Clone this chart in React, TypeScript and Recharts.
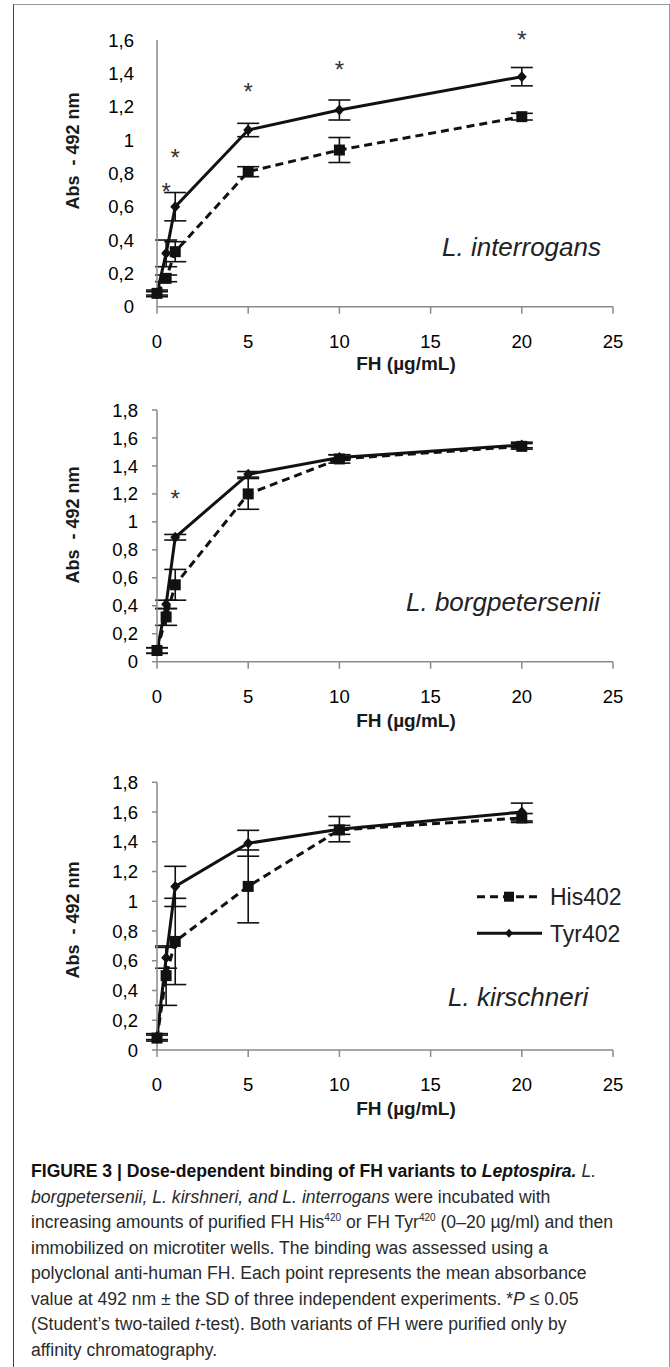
import React from "react";
import {
  LineChart,
  Line,
  XAxis,
  YAxis,
  ErrorBar,
  ReferenceDot,
  Legend,
} from "recharts";

const FONT = "'Liberation Sans', Arial, Helvetica, sans-serif";
const INK = "#111";
const AXIS = "#8a8a8a";

// FH concentration (µg/mL) used in every panel
const doses = [0, 0.5, 1, 5, 10, 20];
const xTicks = [0, 5, 10, 15, 20, 25];
const yTicksTo16 = [0, 0.2, 0.4, 0.6, 0.8, 1, 1.2, 1.4, 1.6];
const yTicksTo18 = [0, 0.2, 0.4, 0.6, 0.8, 1, 1.2, 1.4, 1.6, 1.8];
const seriesNames = ["His402", "Tyr402"];

// L. interrogans
const interHis = [0.08, 0.17, 0.33, 0.81, 0.94, 1.14];
const interHisSd = [0.02, 0.02, 0.06, 0.03, 0.075, 0.02];
const interTyr = [0.08, 0.32, 0.6, 1.06, 1.18, 1.38];
const interTyrSd = [0.01, 0.08, 0.085, 0.04, 0.06, 0.055];
const interStarX = [0.5, 1, 5, 10, 20];
const interStarY = [0.72, 0.92, 1.32, 1.45, 1.63];

// L. borgpetersenii
const borgHis = [0.08, 0.32, 0.55, 1.2, 1.45, 1.54];
const borgHisSd = [0.02, 0.06, 0.11, 0.11, 0.03, 0.02];
const borgTyr = [0.08, 0.41, 0.89, 1.34, 1.46, 1.55];
const borgTyrSd = [0.02, 0.03, 0.02, 0.02, 0.02, 0.02];
const borgStarX = [1];
const borgStarY = [1.2];

// L. kirschneri
const kirHis = [0.08, 0.5, 0.73, 1.1, 1.48, 1.56];
const kirHisSd = [0.02, 0.2, 0.29, 0.245, 0.03, 0.03];
const kirTyr = [0.09, 0.62, 1.1, 1.39, 1.485, 1.6];
const kirTyrSd = [0.02, 0.07, 0.135, 0.087, 0.085, 0.06];

const buildRows = (his: number[], hisSd: number[], tyr: number[], tyrSd: number[]) =>
  doses.map((x, i) => ({ x, his: his[i], hisSd: hisSd[i], tyr: tyr[i], tyrSd: tyrSd[i] }));

const comma = (v: number) => String(v).replace(".", ",");

const squareDot = (p: any) => (
  <rect key={`s${p.index}`} x={p.cx - 5.5} y={p.cy - 5.5} width={11} height={11} fill={INK} />
);
const diamondDot = (p: any) => (
  <path
    key={`d${p.index}`}
    d={`M${p.cx},${p.cy - 5.5}L${p.cx + 5},${p.cy}L${p.cx},${p.cy + 5.5}L${p.cx - 5},${p.cy}Z`}
    fill={INK}
  />
);

const star = (p: any) => (
  <text x={p.cx} y={p.cy + 13} textAnchor="middle" fontSize={24} fill="#333" fontFamily={FONT}>
    *
  </text>
);

function LegendBox() {
  return (
    <svg width={190} height={70}>
      <line x1={7} x2={72} y1={16.7} y2={16.7} stroke={INK} strokeWidth={3} strokeDasharray="8 5" />
      <rect x={34} y={11.7} width={10} height={10} fill={INK} />
      <text x={80} y={16.7} dy="0.36em" fontSize={23} fontFamily={FONT} fill="#222">
        {seriesNames[0]}
      </text>
      <line x1={7} x2={72} y1={53.3} y2={53.3} stroke={INK} strokeWidth={3} />
      <path d="M39,48.8L43,53.3L39,57.8L35,53.3Z" fill={INK} />
      <text x={80} y={53.3} dy="0.36em" fontSize={23} fontFamily={FONT} fill="#222">
        {seriesNames[1]}
      </text>
    </svg>
  );
}

interface PanelProps {
  top: number;
  height: number;
  plotTop: number;
  plotBottom: number;
  yMax: number;
  yTicks: number[];
  yTickLine: boolean;
  rows: any[];
  starX: number[];
  starY: number[];
  species: string;
  speciesLeft: number;
  speciesY: number;
  yTitleY: number;
  xTitleY: number;
  legend?: boolean;
}

function Panel(p: PanelProps) {
  const tick = { fill: "#000", fontSize: 18.5, fontFamily: FONT };
  return (
    <div style={{ position: "absolute", left: 0, top: p.top, width: 670, height: p.height }}>
      <LineChart
        width={670}
        height={p.height}
        data={p.rows}
        margin={{ top: p.plotTop - p.top, right: 57, bottom: p.top + p.height - p.plotBottom - 30, left: 97 }}
      >
        <XAxis
          type="number"
          dataKey="x"
          domain={[0, 25]}
          ticks={xTicks}
          height={30}
          stroke={AXIS}
          strokeWidth={1.5}
          tickSize={7}
          tickMargin={21}
          tick={tick}
          label={() => (
            <text
              x={406}
              y={p.xTitleY - p.top}
              textAnchor="middle"
              dominantBaseline="central"
              fontSize={19}
              fontWeight="bold"
              fontFamily={FONT}
              fill="#1a1a1a"
            >
              FH (µg/mL)
            </text>
          )}
        />
        <YAxis
          type="number"
          domain={[0, p.yMax]}
          ticks={p.yTicks}
          width={60}
          stroke={AXIS}
          strokeWidth={1.5}
          tickLine={p.yTickLine}
          tickSize={5}
          tickMargin={p.yTickLine ? 14 : 18}
          tickFormatter={comma}
          tick={tick}
          label={() => (
            <text
              transform={`translate(73 ${p.yTitleY - p.top}) rotate(-90)`}
              textAnchor="middle"
              dominantBaseline="central"
              fontSize={18}
              fontWeight="bold"
              fontFamily={FONT}
              fill="#1a1a1a"
              style={{ whiteSpace: "pre" }}
            >
              {"Abs  - 492 nm"}
            </text>
          )}
        />
        <Line
          dataKey="his"
          name={seriesNames[0]}
          stroke={INK}
          strokeWidth={3}
          strokeDasharray="8 5"
          dot={squareDot}
          activeDot={false}
          isAnimationActive={false}
        >
          <ErrorBar dataKey="hisSd" direction="y" width={11} stroke={INK} strokeWidth={1.6} isAnimationActive={false} />
        </Line>
        <Line
          dataKey="tyr"
          name={seriesNames[1]}
          stroke={INK}
          strokeWidth={3}
          dot={diamondDot}
          activeDot={false}
          isAnimationActive={false}
        >
          <ErrorBar dataKey="tyrSd" direction="y" width={11} stroke={INK} strokeWidth={1.6} isAnimationActive={false} />
        </Line>
        {p.starX.map((sx, i) => (
          <ReferenceDot key={`star${i}`} x={sx} y={p.starY[i]} r={0} ifOverflow="visible" shape={star} />
        ))}
        {p.legend && (
          <Legend
            layout="vertical"
            align="center"
            verticalAlign="middle"
            content={() => <LegendBox />}
            wrapperStyle={{ left: 470, top: 140, width: 190, height: 70 }}
          />
        )}
      </LineChart>
      <div
        style={{
          position: "absolute",
          left: p.speciesLeft,
          top: p.speciesY - p.top - 15,
          fontFamily: FONT,
          fontStyle: "italic",
          fontSize: 26,
          lineHeight: "30px",
          color: "#222",
          whiteSpace: "nowrap",
        }}
      >
        {p.species}
      </div>
    </div>
  );
}

export default function App() {
  const sup = { fontSize: 10, lineHeight: 0 };
  return (
    <div style={{ position: "absolute", left: 0, top: 0, width: 670, height: 1367, background: "#fff", overflow: "hidden" }}>
      <div style={{ position: "absolute", left: 13, top: 4, width: 655, height: 1400, borderLeft: "1px solid #444", borderTop: "1px solid #999", borderRight: "1px solid #999" }} />
      <Panel
        top={0}
        height={390}
        plotTop={40}
        plotBottom={306.7}
        yMax={1.6}
        yTicks={yTicksTo16}
        yTickLine={false}
        rows={buildRows(interHis, interHisSd, interTyr, interTyrSd)}
        starX={interStarX}
        starY={interStarY}
        species="L. interrogans"
        speciesLeft={442}
        speciesY={246.7}
        yTitleY={151}
        xTitleY={363}
      />
      <Panel
        top={390}
        height={350}
        plotTop={410}
        plotBottom={661.7}
        yMax={1.8}
        yTicks={yTicksTo18}
        yTickLine={true}
        rows={buildRows(borgHis, borgHisSd, borgTyr, borgTyrSd)}
        starX={borgStarX}
        starY={borgStarY}
        species="L. borgpetersenii"
        speciesLeft={406}
        speciesY={601.7}
        yTitleY={525}
        xTitleY={720}
      />
      <Panel
        top={740}
        height={400}
        plotTop={782.3}
        plotBottom={1050}
        yMax={1.8}
        yTicks={yTicksTo18}
        yTickLine={true}
        rows={buildRows(kirHis, kirHisSd, kirTyr, kirTyrSd)}
        starX={[]}
        starY={[]}
        species="L. kirschneri"
        speciesLeft={448}
        speciesY={996.7}
        yTitleY={920}
        xTitleY={1108}
        legend
      />
      <div
        style={{
          position: "absolute",
          left: 31,
          top: 1159,
          fontFamily: FONT,
          fontSize: 17.6,
          lineHeight: "25.5px",
          color: "#2a2a2a",
          whiteSpace: "nowrap",
        }}
      >
        <div>
          <b style={{ color: "#111" }}>
            FIGURE 3 | Dose-dependent binding of FH variants to <i>Leptospira.</i>
          </b>{" "}
          <i>L.</i>
        </div>
        <div>
          <i>borgpetersenii, L. kirshneri, and L. interrogans</i> were incubated with
        </div>
        <div>
          increasing amounts of purified FH His<sup style={sup}>420</sup> or FH Tyr<sup style={sup}>420</sup> (0–20 µg/ml) and then
        </div>
        <div>immobilized on microtiter wells. The binding was assessed using a</div>
        <div>polyclonal anti-human FH. Each point represents the mean absorbance</div>
        <div>
          value at 492 nm ± the SD of three independent experiments. *<i>P</i> ≤ 0.05
        </div>
        <div>
          (Student’s two-tailed <i>t</i>-test). Both variants of FH were purified only by
        </div>
        <div>affinity chromatography.</div>
      </div>
    </div>
  );
}
